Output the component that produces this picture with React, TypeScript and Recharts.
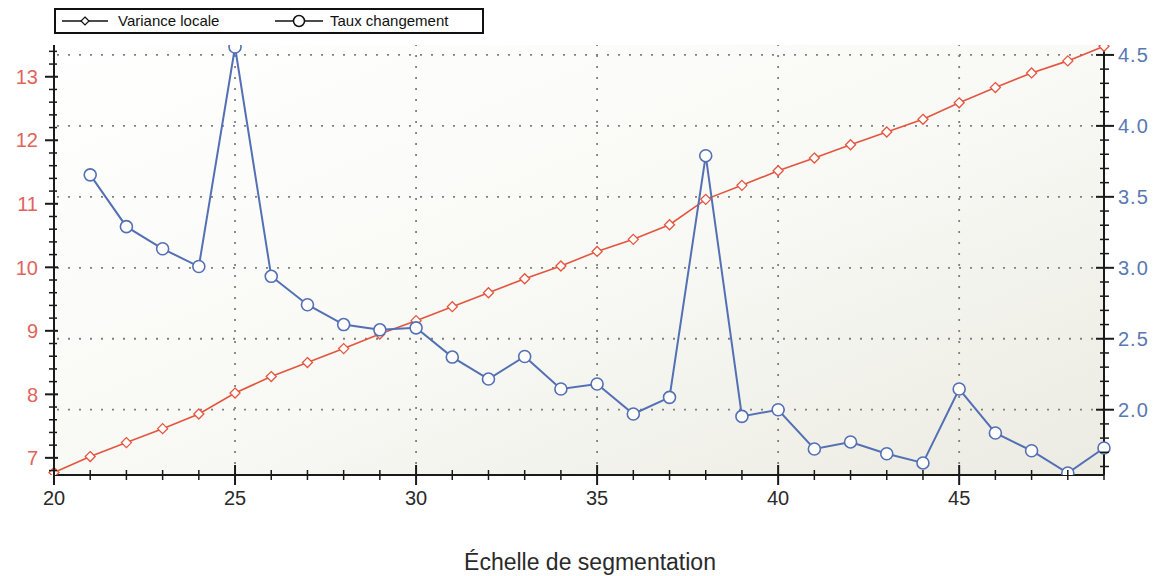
import React from 'react';
import { LineChart, Line, XAxis, YAxis, CartesianGrid, ReferenceLine, Legend } from 'recharts';

const scales = [20, 21, 22, 23, 24, 25, 26, 27, 28, 29, 30, 31, 32, 33, 34, 35, 36, 37, 38, 39, 40, 41, 42, 43, 44, 45, 46, 47, 48, 49];
const varianceLocale = [6.77, 7.02, 7.24, 7.46, 7.69, 8.02, 8.28, 8.5, 8.72, 8.95, 9.16, 9.38, 9.6, 9.82, 10.02, 10.25, 10.44, 10.67, 11.07, 11.29, 11.52, 11.72, 11.93, 12.13, 12.33, 12.59, 12.83, 13.06, 13.25, 13.48];
const tauxChangement = [null, 3.655, 3.29, 3.134, 3.009, 4.556, 2.94, 2.74, 2.6, 2.563, 2.577, 2.371, 2.216, 2.375, 2.146, 2.181, 1.97, 2.087, 3.79, 1.953, 2.0, 1.723, 1.773, 1.69, 1.625, 2.146, 1.836, 1.711, 1.554, 1.73];

const xTickLabels = [20, 25, 30, 35, 40, 45];
const xGridLines = [25, 30, 35, 40, 45];
const leftTickLabels = [7, 8, 9, 10, 11, 12, 13];
const rightTickLabels = [2.0, 2.5, 3.0, 3.5, 4.0, 4.5];

const seriesNames = ['Variance locale', 'Taux changement'];

const LEFT_DOMAIN: [number, number] = [6.73, 13.5];
const RIGHT_DOMAIN: [number, number] = [1.54, 4.57];
const X_DOMAIN: [number, number] = [20, 49];

const RED = '#e4553f';
const RED_LABEL = '#e0645c';
const BLUE = '#5470b4';
const BLUE_LABEL = '#5a78b2';
const AXIS = '#1a1a1a';
const FONT = '"Liberation Sans", Arial, sans-serif';

const data = scales.map((s, i) => ({ scale: s, variance: varianceLocale[i], taux: tauxChangement[i] }));

const stepTicks = (from: number, to: number, step: number) => {
  const out: number[] = [];
  const n = Math.round((to - from) / step);
  for (let k = 0; k <= n; k++) out.push(Math.round((from + k * step) * 1000) / 1000);
  return out;
};
const leftTicks = stepTicks(6.8, 13.4, 0.2);
const rightTicks = stepTicks(1.6, 4.5, 0.1);
const xTicks = scales;

const near = (v: number, arr: number[]) => arr.some((a) => Math.abs(a - v) < 1e-6);

const LeftTick = (props: any) => {
  const { x, y, payload } = props;
  const v = payload.value;
  const major = near(v, leftTickLabels);
  return (
    <g>
      <line x1={x - (major ? 9 : 5)} x2={x + (major ? 4 : 3)} y1={y} y2={y} stroke={AXIS} strokeWidth={major ? 2 : 1.5} />
      {major && (
        <text x={x - 16} y={y} dy="0.36em" textAnchor="end" fill={RED_LABEL} fontSize={20} fontFamily={FONT}>
          {v}
        </text>
      )}
    </g>
  );
};

const RightTick = (props: any) => {
  const { x, y, payload } = props;
  const v = payload.value;
  const major = near(v, rightTickLabels);
  return (
    <g>
      <line x1={x - (major ? 8 : 4)} x2={x + (major ? 10 : 5)} y1={y} y2={y} stroke={AXIS} strokeWidth={major ? 2 : 1.5} />
      {major && (
        <text x={x + 14} y={y} dy="0.36em" textAnchor="start" fill={BLUE_LABEL} fontSize={20} fontFamily={FONT} letterSpacing={1}>
          {v.toFixed(1)}
        </text>
      )}
    </g>
  );
};

const BottomTick = (props: any) => {
  const { x, y, payload } = props;
  const v = payload.value;
  const major = near(v, xTickLabels);
  return (
    <g>
      <line x1={x} x2={x} y1={y - (major ? 10 : 5)} y2={y + (major ? 10 : 5)} stroke={AXIS} strokeWidth={major ? 2 : 1.5} />
      {major && (
        <text x={x} y={y + 23} dy="0.36em" textAnchor="middle" fill="#2a2a2a" fontSize={20} fontFamily={FONT}>
          {v}
        </text>
      )}
    </g>
  );
};

const TopTick = (props: any) => {
  const { x, y, payload } = props;
  const v = payload.value;
  const major = near(v, xTickLabels);
  return <line x1={x} x2={x} y1={y - 2} y2={y + (major ? 8 : 6)} stroke={AXIS} strokeWidth={1.5} />;
};

const Diamond = (props: any) => {
  const { cx, cy, index } = props;
  if (cx == null || cy == null) return <g key={`d${index}`} />;
  const s = 5;
  return (
    <path
      key={`d${index}`}
      d={`M${cx},${cy - s} L${cx + s},${cy} L${cx},${cy + s} L${cx - s},${cy} Z`}
      fill="#fff"
      stroke={RED}
      strokeWidth={1.3}
    />
  );
};

const renderLegend = () => (
  <div
    style={{
      position: 'relative',
      width: 430,
      height: 26,
      boxSizing: 'border-box',
      border: '2px solid #111',
      background: '#fff',
      fontFamily: FONT,
      fontSize: 15,
      color: '#111',
      lineHeight: '20px',
    }}
  >
    <svg width={46} height={14} style={{ position: 'absolute', left: 6, top: 4 }}>
      <line x1={0} x2={46} y1={7} y2={7} stroke="#111" strokeWidth={1.5} />
      <path d="M23,3 L27,7 L23,11 L19,7 Z" fill="#fff" stroke="#111" strokeWidth={1.2} />
    </svg>
    <span style={{ position: 'absolute', left: 62, top: 1 }}>{seriesNames[0]}</span>
    <svg width={48} height={16} style={{ position: 'absolute', left: 219, top: 3 }}>
      <line x1={0} x2={48} y1={8} y2={8} stroke="#111" strokeWidth={1.5} />
      <circle cx={24} cy={8} r={5.5} fill="#fff" stroke="#111" strokeWidth={1.5} />
    </svg>
    <span style={{ position: 'absolute', left: 274, top: 1 }}>{seriesNames[1]}</span>
  </div>
);

export default function App() {
  return (
    <div style={{ position: 'absolute', left: 0, top: 0, width: 1158, height: 576, background: '#fff' }}>
      <LineChart width={1158} height={576} data={data} margin={{ top: 45, right: 0, bottom: 0, left: 4 }}>
        <defs>
          <linearGradient id="plotBg" x1="0" y1="0" x2="1" y2="1">
            <stop offset="0%" stopColor="#ffffff" />
            <stop offset="55%" stopColor="#f8f8f4" />
            <stop offset="100%" stopColor="#ebebe2" />
          </linearGradient>
        </defs>
        <CartesianGrid xAxisId="b" yAxisId="right" horizontal={false} vertical={false} fill="url(#plotBg)" fillOpacity={1} />
        {rightTickLabels.map((v) => (
          <ReferenceLine key={`h${v}`} xAxisId="b" yAxisId="right" y={v} stroke="#808080" strokeWidth={1.8} strokeDasharray="2 9" />
        ))}
        {xGridLines.map((v) => (
          <ReferenceLine key={`v${v}`} xAxisId="b" yAxisId="right" x={v} stroke="#808080" strokeWidth={1.8} strokeDasharray="2 9" />
        ))}
        <XAxis
          xAxisId="b"
          dataKey="scale"
          type="number"
          domain={X_DOMAIN}
          ticks={xTicks}
          interval={0}
          tickSize={0}
          tickMargin={0}
          tickLine={false}
          tick={<BottomTick />}
          height={101}
          stroke={AXIS}
          strokeWidth={2}
          label={{ value: 'Échelle de segmentation', position: 'insideBottom', offset: 6, dx: 11, fontSize: 23, fill: '#2a2a2a', fontFamily: FONT }}
        />
        <XAxis
          xAxisId="t"
          orientation="top"
          dataKey="scale"
          type="number"
          domain={X_DOMAIN}
          ticks={xTicks}
          interval={0}
          tickSize={0}
          tickMargin={0}
          tickLine={false}
          tick={<TopTick />}
          height={0}
          stroke={AXIS}
          strokeWidth={2}
        />
        <YAxis
          yAxisId="left"
          orientation="left"
          type="number"
          domain={LEFT_DOMAIN}
          allowDataOverflow
          ticks={leftTicks}
          interval={0}
          tickSize={0}
          tickMargin={0}
          tickLine={false}
          tick={<LeftTick />}
          width={50}
          stroke={AXIS}
          strokeWidth={2}
        />
        <YAxis
          yAxisId="right"
          orientation="right"
          type="number"
          domain={RIGHT_DOMAIN}
          allowDataOverflow
          ticks={rightTicks}
          interval={0}
          tickSize={0}
          tickMargin={0}
          tickLine={false}
          tick={<RightTick />}
          width={54}
          stroke={AXIS}
          strokeWidth={2}
        />
        <Legend
          verticalAlign="middle"
          align="center"
          layout="horizontal"
          content={renderLegend}
          wrapperStyle={{ left: 54, top: 8, width: 430, height: 26 }}
        />
        <Line
          xAxisId="b"
          yAxisId="left"
          type="linear"
          dataKey="variance"
          name={seriesNames[0]}
          stroke={RED}
          strokeWidth={1.6}
          dot={<Diamond />}
          isAnimationActive={false}
        />
        <Line
          xAxisId="b"
          yAxisId="right"
          type="linear"
          dataKey="taux"
          name={seriesNames[1]}
          stroke={BLUE}
          strokeWidth={2}
          dot={{ r: 6, fill: '#fff', stroke: BLUE, strokeWidth: 1.6 }}
          isAnimationActive={false}
        />
      </LineChart>
    </div>
  );
}
